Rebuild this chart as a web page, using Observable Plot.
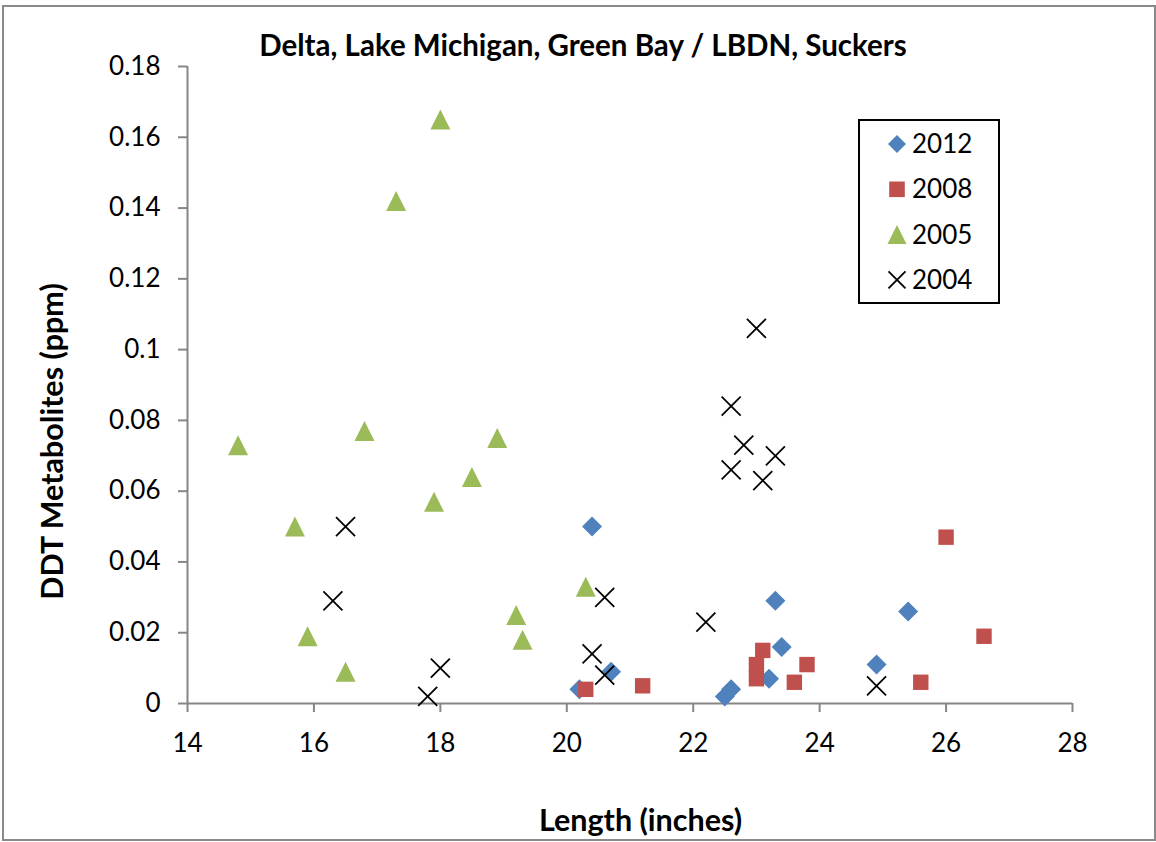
<!DOCTYPE html>
<html>
<head>
<meta charset="utf-8">
<script src="https://cdn.jsdelivr.net/npm/d3@7"></script>
<script src="https://cdn.jsdelivr.net/npm/@observablehq/plot@0.6"></script>
<style>
  html, body { margin: 0; padding: 0; background: #fff; overflow: hidden; }
  #wrap { position: relative; width: 1156px; height: 842px; font-family: Lato, "Open Sans", sans-serif; }
  #chart { position: absolute; left: 0; top: 0; }
  #border { position: absolute; left: 2px; top: 5px; width: 1154px; height: 836px; box-sizing: border-box; border: 2px solid #8a8a8a; pointer-events: none; }
  #legend { position: absolute; left: 858px; top: 119px; width: 142px; height: 185px; box-sizing: border-box; border: 2px solid #000; background: #fff; }
</style>
</head>
<body>
<div id="wrap">
  <div id="chart"></div>
  <div id="legend"></div>
  <div id="border"></div>
</div>
<script>
// ---- Data ----
const title = "Delta, Lake Michigan, Green Bay / LBDN, Suckers";
const xLabel = "Length (inches)";
const yLabel = "DDT Metabolites (ppm)";

const seriesNames = ["2012", "2008", "2005", "2004"];

const x2012 = [20.4, 20.7, 20.2, 22.5, 22.6, 23.3, 23.4, 23.2, 24.9, 25.4];
const y2012 = [0.050, 0.009, 0.004, 0.002, 0.004, 0.029, 0.016, 0.007, 0.011, 0.026];

const x2008 = [20.3, 21.2, 23.0, 23.0, 23.1, 23.6, 23.8, 25.6, 26.0, 26.6];
const y2008 = [0.004, 0.005, 0.011, 0.007, 0.015, 0.006, 0.011, 0.006, 0.047, 0.019];

const x2005 = [14.8, 15.7, 15.9, 16.5, 16.8, 17.3, 17.9, 18.0, 18.5, 18.9, 19.2, 19.3, 20.3];
const y2005 = [0.073, 0.050, 0.019, 0.009, 0.077, 0.142, 0.057, 0.165, 0.064, 0.075, 0.025, 0.018, 0.033];

const x2004 = [16.3, 16.5, 17.8, 18.0, 20.4, 20.6, 20.6, 22.2, 22.6, 22.6, 22.8, 23.0, 23.1, 23.3, 24.9];
const y2004 = [0.029, 0.050, 0.002, 0.010, 0.014, 0.030, 0.008, 0.023, 0.084, 0.066, 0.073, 0.106, 0.063, 0.070, 0.005];

const xTicks = [14, 16, 18, 20, 22, 24, 26, 28];
const yTicks = [0, 0.02, 0.04, 0.06, 0.08, 0.1, 0.12, 0.14, 0.16, 0.18];

// ---- Build tables ----
const toRows = (xs, ys) => xs.map((x, i) => ({x, y: ys[i]}));
const d2012 = toRows(x2012, y2012);
const d2008 = toRows(x2008, y2008);
const d2005 = toRows(x2005, y2005);
const d2004 = toRows(x2004, y2004);

// ---- Custom Excel-like symbols (size = r*r*PI) ----
const rad = (size) => Math.sqrt(size / Math.PI);
const diamondSym = {draw(c, s) { const r = rad(s); c.moveTo(0, -r); c.lineTo(r, 0); c.lineTo(0, r); c.lineTo(-r, 0); c.closePath(); }};
const squareSym  = {draw(c, s) { const r = rad(s); c.moveTo(-r, -r); c.lineTo(r, -r); c.lineTo(r, r); c.lineTo(-r, r); c.closePath(); }};
const triSym     = {draw(c, s) { const r = rad(s); c.moveTo(0, -r); c.lineTo(r, r); c.lineTo(-r, r); c.closePath(); }};
const timesSym   = {draw(c, s) { const r = rad(s); c.moveTo(-r, -r); c.lineTo(r, r); c.moveTo(r, -r); c.lineTo(-r, r); }};

const colors = {"2012": "#4F81BD", "2008": "#C0504D", "2005": "#9BBB59", "2004": "#000000"};
const axisGray = "#868686";
const fmt = d => String(+d.toFixed(2));

const chart = Plot.plot({
  width: 1156,
  height: 842,
  marginLeft: 187,
  marginRight: 84,
  marginTop: 66,
  marginBottom: 139,
  style: {fontFamily: "Lato, 'Open Sans', sans-serif", fontSize: "26px", background: "transparent", color: "#000"},
  x: {domain: [xTicks[0], xTicks[xTicks.length - 1]], label: null},
  y: {domain: [yTicks[0], yTicks[yTicks.length - 1]], label: null},
  marks: [
    Plot.ruleY([yTicks[0]], {stroke: axisGray, strokeWidth: 2}),
    Plot.ruleX([xTicks[0]], {stroke: axisGray, strokeWidth: 2}),
    Plot.axisY({ticks: yTicks, tickSize: 9, tickPadding: 18, stroke: axisGray, strokeWidth: 2, fill: "#000", fontSize: 26, tickFormat: fmt, label: null}),
    Plot.axisX({ticks: xTicks, tickSize: 9, tickPadding: 21, stroke: axisGray, strokeWidth: 2, fill: "#000", fontSize: 26, tickFormat: fmt, label: null}),
    Plot.dot(d2012, {x: "x", y: "y", symbol: diamondSym, r: 10, fill: colors["2012"], stroke: "none"}),
    Plot.dot(d2008, {x: "x", y: "y", symbol: squareSym, r: 7.7, fill: colors["2008"], stroke: "none"}),
    Plot.dot(d2005, {x: "x", y: "y", symbol: triSym, r: 10, fill: colors["2005"], stroke: "none"}),
    Plot.dot(d2004, {x: "x", y: "y", symbol: timesSym, r: 9.5, fill: "none", stroke: colors["2004"], strokeWidth: 1.8}),
    Plot.text([title], {text: d => d, frameAnchor: "top", textAnchor: "middle", lineAnchor: "middle", dx: -47, dy: -20, fontSize: 29.5, fontWeight: "bold", fill: "#000"}),
    Plot.text([yLabel], {text: d => d, frameAnchor: "left", textAnchor: "middle", lineAnchor: "middle", rotate: -90, dx: -134, dy: 56.5, fontSize: 30.5, fontWeight: "bold", fill: "#000"}),
    Plot.text([xLabel], {text: d => d, frameAnchor: "bottom", textAnchor: "middle", lineAnchor: "middle", dx: 10.5, dy: 118, fontSize: 30.5, fontWeight: "bold", fill: "#000"})
  ]
});
document.getElementById("chart").appendChild(chart);

// ---- Legend (Excel-style box) ----
const legendSyms = {"2012": [diamondSym, 9], "2008": [squareSym, 7.8], "2005": [triSym, 9.5], "2004": [timesSym, 8.5]};
const lsvg = d3.select("#legend").append("svg").attr("width", 138).attr("height", 181)
  .style("display", "block");
seriesNames.forEach((name, i) => {
  const cy = 23 + i * 45.3;
  const [sym, r] = legendSyms[name];
  const p = d3.path();
  sym.draw(p, r * r * Math.PI);
  const g = lsvg.append("g").attr("transform", `translate(37,${cy})`);
  if (name === "2004") {
    g.append("path").attr("d", p.toString()).attr("fill", "none").attr("stroke", colors[name]).attr("stroke-width", 1.8);
  } else {
    g.append("path").attr("d", p.toString()).attr("fill", colors[name]);
  }
  lsvg.append("text").attr("x", 52).attr("y", cy).attr("dy", "0.35em")
    .attr("font-family", "Lato, 'Open Sans', sans-serif").attr("font-size", 26).attr("fill", "#000")
    .text(name);
});
</script>
</body>
</html>
